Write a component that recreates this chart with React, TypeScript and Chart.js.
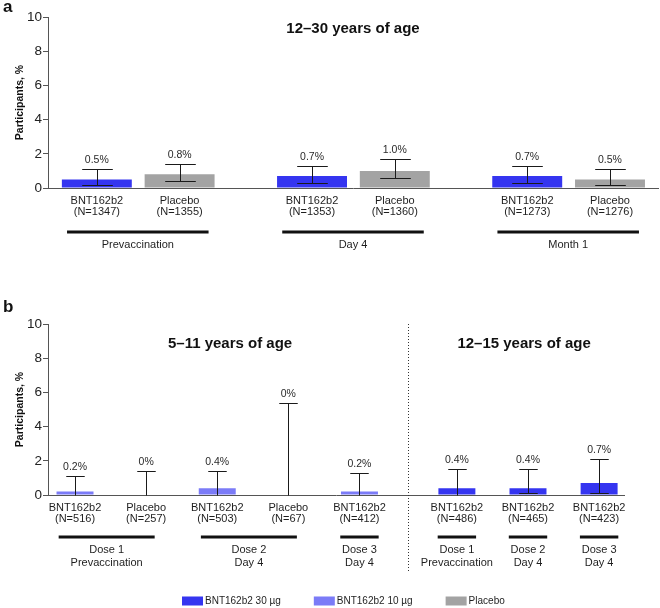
import React, { useEffect, useRef } from "react";
import { Chart, registerables } from "chart.js";

Chart.register(...registerables);

const FONT = '"Liberation Sans", Arial, Helvetica, sans-serif';

// ---------- Panel a data ----------
const A_LETTER = "a";
const A_TITLE = "12–30 years of age";
const A_TIMEPOINTS = ["Prevaccination", "Day 4", "Month 1"];
const A_ARMS = ["BNT162b2", "Placebo"];
const A_BNT_N = [1347, 1353, 1273];
const A_PLACEBO_N = [1355, 1360, 1276];
const A_BNT = [0.5, 0.7, 0.7];
const A_BNT_LO = [0.2, 0.3, 0.3];
const A_BNT_HI = [1.1, 1.3, 1.3];
const A_PLACEBO = [0.8, 1.0, 0.5];
const A_PLACEBO_LO = [0.4, 0.6, 0.2];
const A_PLACEBO_HI = [1.4, 1.7, 1.1];

// ---------- Panel b data ----------
const B_LETTER = "b";
const B_AGE_TITLES = ["5–11 years of age", "12–15 years of age"];
const B_ARMS = ["BNT162b2", "Placebo", "BNT162b2", "Placebo", "BNT162b2", "BNT162b2", "BNT162b2", "BNT162b2"];
const B_SERIES = ["10", "P", "10", "P", "10", "30", "30", "30"];
const B_N = [516, 257, 503, 67, 412, 486, 465, 423];
const B_AGE_GROUP = [0, 0, 0, 0, 0, 1, 1, 1];
const B_TIMEPOINT = [0, 0, 1, 1, 2, 3, 4, 5];
const B_TIMEPOINT_LABELS = [
  ["Dose 1", "Prevaccination"],
  ["Dose 2", "Day 4"],
  ["Dose 3", "Day 4"],
  ["Dose 1", "Prevaccination"],
  ["Dose 2", "Day 4"],
  ["Dose 3", "Day 4"],
];
const B_VALUES = [0.2, 0, 0.4, 0, 0.2, 0.4, 0.4, 0.7];
const B_LO = [0, 0, 0, 0, 0, 0, 0.1, 0.1];
const B_HI = [1.1, 1.4, 1.4, 5.4, 1.3, 1.5, 1.5, 2.1];

const LEGEND_LABELS = ["BNT162b2 30 µg", "BNT162b2 10 µg", "Placebo"];
const Y_TICKS = [0, 2, 4, 6, 8, 10];
const Y_TITLE = "Participants, %";

// ---------- styles ----------
const C30 = "#3535f0";
const C10 = "#7b7bf7";
const CPL = "#a3a3a3";
const AXIS = "#555555";
const TXT = "#1e1e1e";

const GAP_A = 0.6;
const GAP_B = 0.37;

function fmtPct(v: number) {
  return v === 0 ? "0%" : v.toFixed(1) + "%";
}

type Group = { from: number; to: number; lines: string[] };

type OverlayCfg = {
  letter: string;
  capUnits: number;
  groups: Group[];
  groupLineY: number;
  groupLabelY: number;
  groupLabelStep: number;
  titles: { text: string; x: (c: any) => number }[];
  titleY: number;
  dividerX?: number;
  dividerBottom?: number;
  legend?: { text: string; color: string }[];
  legendY?: number;
  legendX?: number;
};

function overlay(cfg: OverlayCfg) {
  return {
    id: "overlay",
    afterDatasetsDraw(chart: any) {
      const ctx = chart.ctx;
      const xs = chart.scales.x;
      const ys = chart.scales.y;
      const unit = xs.getPixelForValue(1) - xs.getPixelForValue(0);
      const capHalf = (cfg.capUnits * unit) / 2;
      ctx.save();
      chart.data.datasets.forEach((ds: any, di: number) => {
        const meta = chart.getDatasetMeta(di);
        meta.data.forEach((el: any, i: number) => {
          const x = Math.round(el.x) + 0.5;
          const lo = ds.errLo[i];
          const hi = ds.errHi[i];
          const yLo = Math.round(ys.getPixelForValue(lo)) + 0.5;
          const yHi = Math.round(ys.getPixelForValue(hi)) + 0.5;
          ctx.strokeStyle = "#1a1a1a";
          ctx.lineWidth = 1;
          ctx.beginPath();
          ctx.moveTo(x, yLo);
          ctx.lineTo(x, yHi);
          ctx.moveTo(x - capHalf, yHi);
          ctx.lineTo(x + capHalf, yHi);
          if (lo > 0) {
            ctx.moveTo(x - capHalf, yLo);
            ctx.lineTo(x + capHalf, yLo);
          }
          ctx.stroke();
          ctx.fillStyle = "#2a2a2a";
          ctx.font = `10.5px ${FONT}`;
          ctx.textAlign = "center";
          ctx.textBaseline = "bottom";
          ctx.fillText(fmtPct(ds.data[i].y), el.x, yHi - 4);
        });
      });
      ctx.restore();
    },
    afterDraw(chart: any) {
      const ctx = chart.ctx;
      const xs = chart.scales.x;
      const area = chart.chartArea;
      ctx.save();
      // group lines + labels
      cfg.groups.forEach((g) => {
        const x0 = xs.getPixelForValue(g.from);
        const x1 = xs.getPixelForValue(g.to);
        const y = area.bottom + cfg.groupLineY;
        ctx.strokeStyle = "#111";
        ctx.lineWidth = 3;
        ctx.beginPath();
        ctx.moveTo(x0, y);
        ctx.lineTo(x1, y);
        ctx.stroke();
        ctx.fillStyle = TXT;
        ctx.font = `11px ${FONT}`;
        ctx.textAlign = "center";
        ctx.textBaseline = "middle";
        g.lines.forEach((t, k) => {
          ctx.fillText(t, (x0 + x1) / 2, area.bottom + cfg.groupLabelY + k * cfg.groupLabelStep);
        });
      });
      // divider
      if (cfg.dividerX !== undefined) {
        const x = Math.round(xs.getPixelForValue(cfg.dividerX)) + 0.5;
        ctx.strokeStyle = "#333";
        ctx.lineWidth = 1;
        ctx.setLineDash([1, 2]);
        ctx.beginPath();
        ctx.moveTo(x, area.top);
        ctx.lineTo(x, area.bottom + (cfg.dividerBottom || 0));
        ctx.stroke();
        ctx.setLineDash([]);
      }
      // titles
      ctx.fillStyle = "#111";
      ctx.font = `bold 15px ${FONT}`;
      ctx.textAlign = "center";
      ctx.textBaseline = "middle";
      cfg.titles.forEach((t) => {
        ctx.fillText(t.text, t.x(chart), area.top + cfg.titleY);
      });
      // panel letter
      ctx.font = `bold 17px ${FONT}`;
      ctx.textAlign = "left";
      ctx.textBaseline = "alphabetic";
      ctx.fillText(cfg.letter, 3, 12);
      // legend
      if (cfg.legend) {
        ctx.font = `10px ${FONT}`;
        ctx.textBaseline = "middle";
        let x = cfg.legendX || 0;
        const y = cfg.legendY || 0;
        cfg.legend.forEach((it) => {
          ctx.fillStyle = it.color;
          ctx.fillRect(x, y - 4.5, 21, 9);
          ctx.fillStyle = TXT;
          ctx.textAlign = "left";
          ctx.fillText(it.text, x + 23, y);
          x += 23 + ctx.measureText(it.text).width + 33;
        });
      }
      ctx.restore();
    },
  };
}

function yScale() {
  return {
    min: 0,
    max: 10,
    afterBuildTicks: (s: any) => {
      s.ticks = Y_TICKS.map((v) => ({ value: v }));
    },
    afterFit: (s: any) => {
      s.width = 48;
    },
    grid: { drawOnChartArea: false, drawTicks: true, tickLength: 5, color: AXIS, lineWidth: 1 },
    border: { display: true, color: AXIS, width: 1 },
    ticks: { padding: 1, color: "#222", font: { size: 13.5, family: FONT } },
    title: {
      display: true,
      text: Y_TITLE,
      color: "#111",
      font: { size: 10.5, weight: "bold", family: FONT },
      padding: { top: 14, bottom: 0 },
    },
  };
}

function xScale(min: number, max: number, positions: number[], labels: string[][], height: number) {
  return {
    type: "linear",
    min,
    max,
    offset: false,
    afterBuildTicks: (s: any) => {
      s.ticks = positions.map((v) => ({ value: v }));
    },
    afterFit: (s: any) => {
      s.height = height;
    },
    grid: { display: false, drawTicks: false },
    border: { display: true, color: AXIS, width: 1 },
    ticks: {
      autoSkip: false,
      maxRotation: 0,
      minRotation: 0,
      padding: 7,
      color: TXT,
      font: { size: 11, family: FONT, lineHeight: 1.05 },
      callback: (_v: any, i: number) => labels[i],
    },
  };
}

function buildA(canvas: HTMLCanvasElement) {
  const bntX = A_TIMEPOINTS.map((_, g) => g * (2 + GAP_A));
  const plaX = A_TIMEPOINTS.map((_, g) => g * (2 + GAP_A) + 1);
  const positions: number[] = [];
  const labels: string[][] = [];
  A_TIMEPOINTS.forEach((_, g) => {
    positions.push(bntX[g], plaX[g]);
    labels.push([A_ARMS[0], `(N=${A_BNT_N[g]})`], [A_ARMS[1], `(N=${A_PLACEBO_N[g]})`]);
  });
  const groups: Group[] = A_TIMEPOINTS.map((t, g) => ({
    from: bntX[g] - 0.36,
    to: plaX[g] + 0.35,
    lines: [t],
  }));
  return new Chart(canvas, {
    type: "bar",
    data: {
      datasets: [
        {
          label: A_ARMS[0],
          data: A_BNT.map((y, g) => ({ x: bntX[g], y })),
          errLo: A_BNT_LO,
          errHi: A_BNT_HI,
          backgroundColor: C30,
          borderWidth: 0,
          grouped: false,
          barPercentage: 0.845,
          categoryPercentage: 1,
        } as any,
        {
          label: A_ARMS[1],
          data: A_PLACEBO.map((y, g) => ({ x: plaX[g], y })),
          errLo: A_PLACEBO_LO,
          errHi: A_PLACEBO_HI,
          backgroundColor: CPL,
          borderWidth: 0,
          grouped: false,
          barPercentage: 0.845,
          categoryPercentage: 1,
        } as any,
      ],
    },
    options: {
      responsive: false,
      animation: false,
      devicePixelRatio: 1,
      layout: { padding: { top: 17, right: 2, left: 0, bottom: 0 } },
      plugins: { legend: { display: false }, tooltip: { enabled: false } },
      scales: {
        x: xScale(-0.59, 6.78, positions, labels, 112) as any,
        y: yScale() as any,
      },
    },
    plugins: [
      overlay({
        letter: A_LETTER,
        capUnits: 0.37,
        groups,
        groupLineY: 44,
        groupLabelY: 57,
        groupLabelStep: 13,
        titles: [{ text: A_TITLE, x: (c: any) => (c.chartArea.left + c.chartArea.right) / 2 }],
        titleY: 12,
      }),
    ],
  });
}

function buildB(canvas: HTMLCanvasElement) {
  const xs = B_VALUES.map((_, i) => i + B_AGE_GROUP[i] * GAP_B);
  const labels = B_ARMS.map((a, i) => [a, `(N=${B_N[i]})`]);
  const groups: Group[] = B_TIMEPOINT_LABELS.map((lines, t) => {
    const idx = B_TIMEPOINT.map((tp, i) => (tp === t ? i : -1)).filter((i) => i >= 0);
    const first = xs[idx[0]];
    const last = xs[idx[idx.length - 1]];
    const single = idx.length === 1;
    return {
      from: single ? first - 0.27 : first - 0.23,
      to: single ? last + 0.27 : last + 0.12,
      lines,
    };
  });
  const mk = (series: string, label: string, color: string) => {
    const idx = B_SERIES.map((s, i) => (s === series ? i : -1)).filter((i) => i >= 0);
    return {
      label,
      data: idx.map((i) => ({ x: xs[i], y: B_VALUES[i] })),
      errLo: idx.map((i) => B_LO[i]),
      errHi: idx.map((i) => B_HI[i]),
      backgroundColor: color,
      borderWidth: 0,
      grouped: false,
      barPercentage: 0.52,
      categoryPercentage: 1,
    } as any;
  };
  const lastYoung = B_AGE_GROUP.lastIndexOf(0);
  const dividerX = (xs[lastYoung] + xs[lastYoung + 1]) / 2;
  return new Chart(canvas, {
    type: "bar",
    data: {
      datasets: [
        mk("30", LEGEND_LABELS[0], C30),
        mk("10", LEGEND_LABELS[1], C10),
        mk("P", LEGEND_LABELS[2], CPL),
      ],
    },
    options: {
      responsive: false,
      animation: false,
      devicePixelRatio: 1,
      layout: { padding: { top: 24, right: 36, left: 0, bottom: 0 } },
      plugins: { legend: { display: false }, tooltip: { enabled: false } },
      scales: {
        x: xScale(-0.38, 7.72, xs, labels, 113) as any,
        y: yScale() as any,
      },
    },
    plugins: [
      overlay({
        letter: B_LETTER,
        capUnits: 0.26,
        groups,
        groupLineY: 42,
        groupLabelY: 55,
        groupLabelStep: 13,
        titles: [
          {
            text: B_AGE_TITLES[0],
            x: (c: any) => (c.chartArea.left + c.scales.x.getPixelForValue(dividerX)) / 2 + 2,
          },
          {
            text: B_AGE_TITLES[1],
            x: (c: any) => (c.scales.x.getPixelForValue(dividerX) + c.chartArea.right) / 2 + 8,
          },
        ],
        titleY: 20,
        dividerX,
        dividerBottom: 77,
        legend: [
          { text: LEGEND_LABELS[0], color: C30 },
          { text: LEGEND_LABELS[1], color: C10 },
          { text: LEGEND_LABELS[2], color: CPL },
        ],
        legendX: 182,
        legendY: 301,
      }),
    ],
  });
}

export default function App() {
  const refA = useRef<HTMLCanvasElement>(null);
  const refB = useRef<HTMLCanvasElement>(null);
  useEffect(() => {
    const a = buildA(refA.current!);
    const b = buildB(refB.current!);
    return () => {
      a.destroy();
      b.destroy();
    };
  }, []);
  return (
    <div
      style={{
        position: "absolute",
        left: 0,
        top: 0,
        width: 660,
        height: 608,
        overflow: "hidden",
        background: "#ffffff",
      }}
    >
      <canvas
        ref={refA}
        width={660}
        height={300}
        style={{ position: "absolute", left: 0, top: 0, width: 660, height: 300 }}
      />
      <canvas
        ref={refB}
        width={660}
        height={308}
        style={{ position: "absolute", left: 0, top: 300, width: 660, height: 308 }}
      />
    </div>
  );
}
